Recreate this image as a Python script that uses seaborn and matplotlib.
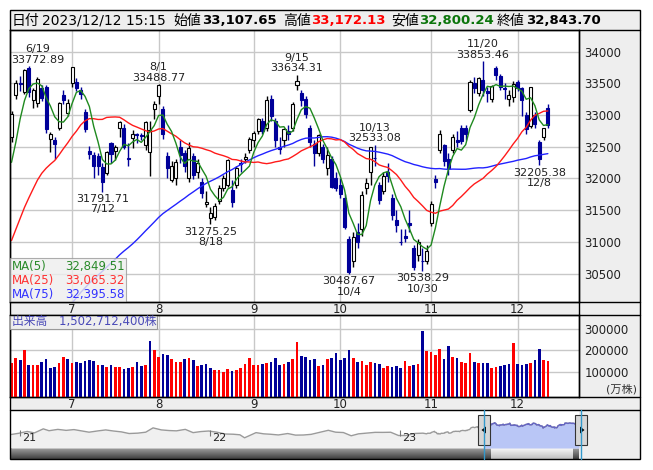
import numpy as np
import pandas as pd
import matplotlib
matplotlib.use('Agg')
import matplotlib.pyplot as plt
import seaborn as sns
from matplotlib.patches import Rectangle, Polygon

# Nikkei 225 daily candles, 2023/6/13 - 2023/12/12
opens = [32650, 33320, 33510, 33370, 33750, 33240, 33190, 33420, 33440, 32620,
         32610, 32800, 33310, 33040, 33500, 33520, 33390, 33050, 32440, 32370,
         32350, 32180, 32090, 32560, 32440, 32800, 32800, 32330, 32640, 32700,
         32690, 32530, 32420, 33100, 33300, 33100, 32350, 31980, 32000, 32500,
         32400, 32000, 32350, 32100, 31950, 31600, 31380, 31400, 31650, 31850,
         31900, 31820, 31900, 32250, 32300, 32450, 32600, 32750, 32900, 32800,
         33250, 32900, 32500, 32600, 32750, 32800, 33480, 33350, 33250, 32800,
         32550, 32400, 32500, 32170, 32300, 32000, 31900, 31700, 31050, 30700,
         31150, 31200, 31850, 32110, 32330, 31900, 31800, 32100, 31700, 31350,
         31000, 31100, 31300, 30900, 30800, 30700, 30700, 31300, 31990, 32450,
         32530, 32300, 32450, 32600, 32800, 32800, 33080, 33500, 33350, 33550,
         33380, 33250, 33740, 33620, 33420, 33250, 33280, 33520, 33420, 33000,
         32820, 33000, 32570, 32650, 33107.65]
highs = [33070, 33560, 33620, 33730, 33772.89, 33430, 33600, 33480, 33480, 32730,
         32660, 33200, 33390, 33250, 33760, 33580, 33450, 33100, 32520, 32420,
         32400, 32240, 32430, 32580, 32530, 32900, 32860, 32560, 32760, 32720,
         32720, 32900, 32900, 33230, 33488.77, 33150, 32420, 32270, 32300, 32600,
         32450, 32580, 32400, 32300, 32000, 31800, 31550, 31620, 31900, 32050,
         32300, 31980, 32200, 32300, 32400, 32650, 32750, 32950, 32950, 33300,
         33322, 32950, 32650, 32800, 32850, 33200, 33634.31, 33400, 33300, 32850,
         32600, 32700, 32550, 32500, 32350, 32100, 32000, 31750, 31100, 31150,
         31300, 31800, 32000, 32500, 32533.08, 31950, 32100, 32250, 31750, 31500,
         31200, 31200, 31500, 30950, 31050, 30900, 30950, 31650, 32050, 32760,
         32550, 32400, 32700, 32750, 32850, 32850, 33560, 33600, 33600, 33853.46,
         33450, 33480, 33780, 33650, 33500, 33400, 33530, 33560, 33450, 33050,
         33450, 33050, 32600, 32800, 33172.13]
lows = [32580, 33250, 33380, 33330, 33280, 33110, 33130, 33230, 32720, 32420,
        32300, 32760, 33180, 32990, 33440, 33380, 33250, 32730, 32300, 32000,
        32050, 31791.71, 32050, 32250, 32290, 32650, 32460, 32200, 32480, 32560,
        32600, 32450, 32037, 32940, 33180, 32620, 32000, 31950, 31900, 32250,
        32100, 31950, 31990, 32010, 31700, 31550, 31275.25, 31350, 31600, 31800,
        31870, 31550, 31850, 32100, 32250, 32400, 32500, 32700, 32700, 32750,
        32900, 32500, 32380, 32500, 32600, 32750, 33400, 33150, 32950, 32500,
        32200, 32350, 32250, 32050, 31850, 31800, 31700, 31200, 30487.67, 30600,
        30900, 31100, 31750, 31900, 32200, 31600, 31750, 31950, 31350, 31150,
        30950, 31000, 31150, 30550, 30700, 30538.29, 30650, 31250, 31850, 32400,
        32200, 32050, 32400, 32500, 32550, 32600, 33050, 33350, 33300, 33300,
        33200, 33200, 33550, 33400, 33250, 33150, 33200, 33380, 32980, 32700,
        32800, 32800, 32205.38, 32600, 32800.24]
closes = [33018.05, 33502.42, 33485.49, 33706.08, 33370.42, 33388.91, 33575.14, 33264.88, 32781.54, 32698.81,
          32538.33, 33193.99, 33234.14, 33189.04, 33753.33, 33422.52, 33338.70, 32773.02, 32388.42, 32189.73,
          32203.57, 31943.93, 32419.33, 32391.26, 32493.89, 32896.03, 32490.52, 32304.25, 32700.69, 32682.51,
          32668.34, 32891.16, 32759.23, 33172.22, 33476.58, 32707.69, 32159.28, 32192.75, 32254.56, 32377.29,
          32204.33, 32473.65, 32059.91, 32238.89, 31766.82, 31626.00, 31450.76, 31565.64, 31856.71, 32010.26,
          32287.21, 31624.28, 32169.99, 32226.97, 32333.46, 32619.34, 32710.62, 32939.18, 32745.49, 33241.02,
          32991.08, 32606.84, 32467.76, 32776.37, 32706.52, 33168.10, 33533.09, 33242.59, 33023.78, 32571.03,
          32402.41, 32678.62, 32315.05, 32371.90, 31872.52, 31857.62, 31759.88, 31237.94, 30526.88, 31075.36,
          30994.67, 31746.53, 31936.51, 32494.66, 32315.99, 31659.03, 32040.29, 32042.25, 31430.62, 31259.36,
          30999.55, 31062.35, 31269.92, 30601.78, 30991.69, 30696.96, 30858.85, 31601.65, 31949.89, 32708.48,
          32271.82, 32166.48, 32646.46, 32568.11, 32585.11, 32695.93, 33519.70, 33424.41, 33585.20, 33388.03,
          33354.14, 33451.83, 33625.53, 33447.67, 33408.39, 33321.22, 33486.89, 33431.51, 33231.27, 32775.82,
          33445.90, 32858.31, 32307.86, 32791.80, 32843.70]
# volume, 10,000 shares
volumes = [142000, 163700, 154400, 200900, 131200, 131200, 131200, 145100, 159100, 117200,
           121900, 142000, 166800, 159100, 142000, 145100, 142000, 149800, 154400, 149800,
           131200, 131200, 121900, 131200, 121900, 121900, 112600, 117200, 121900, 145100,
           126500, 131200, 242800, 200900, 168400, 182300, 177700, 159100, 145100, 145100,
           159100, 163700, 154400, 126500, 131200, 135900, 117200, 107900, 107900, 98600,
           112600, 103300, 107900, 117200, 135900, 163700, 131200, 131200, 135900, 140500,
           145100, 163700, 131200, 135900, 145100, 159100, 238100, 173000, 168400, 154400,
           159100, 126500, 131200, 159100, 163700, 187000, 154400, 163700, 200900, 163700,
           145100, 149800, 131200, 145100, 140500, 135900, 117200, 126500, 121900, 126500,
           117200, 149800, 126500, 131200, 135900, 289300, 196300, 191600, 177700, 205600,
           159100, 219500, 168400, 163700, 145100, 140500, 187000, 145100, 140500, 140500,
           140500, 117200, 121900, 126500, 131200, 135900, 233500, 135900, 131200, 135900,
           140500, 154400, 205600, 154400, 150271.24]
# closes 2023/2/22 - 2023/6/12, needed for the moving averages
pre_closes = [27104, 27453, 27423, 27445,
              27516, 27498, 27927, 28237, 28309, 28444, 28623, 28143, 27832, 27222, 27229,
              27010, 27333, 26945, 27466, 27419, 27385, 27476, 27518, 27883, 27782, 28041,
              28188, 28287, 27813, 27472, 27518, 27633, 27923, 28082, 28156, 28493,
              28514, 28658, 28606, 28657, 28564, 28593, 28620, 28416, 28457, 28856,
              29123, 29157, 28949, 29242, 29122, 29126, 29388, 29626, 29842, 30093,
              30573, 30808, 31086, 31086, 30957, 30801, 30916, 31233, 31328, 30888,
              31148, 31524, 32217, 32506, 31913, 31641, 32265, 32434]
# older history for the navigator strip
nav_dates = ['2020-12-15', '2020-12-30', '2021-01-15', '2021-01-29', '2021-02-15', '2021-02-26',
             '2021-03-15', '2021-03-31', '2021-04-15', '2021-04-30', '2021-05-14', '2021-05-31',
             '2021-06-15', '2021-06-30', '2021-07-15', '2021-07-30', '2021-08-16', '2021-08-31',
             '2021-09-14', '2021-09-30', '2021-10-15', '2021-10-29', '2021-11-15', '2021-11-30',
             '2021-12-15', '2021-12-30', '2022-01-14', '2022-01-31', '2022-02-15', '2022-02-28',
             '2022-03-09', '2022-03-31', '2022-04-15', '2022-04-28', '2022-05-13', '2022-05-31',
             '2022-06-15', '2022-06-30', '2022-07-15', '2022-07-29', '2022-08-17', '2022-08-31',
             '2022-09-15', '2022-09-30', '2022-10-14', '2022-10-31', '2022-11-15', '2022-11-30',
             '2022-12-15', '2022-12-30', '2023-01-13', '2023-01-31', '2023-02-15']
nav_values = [26687, 27444, 28519, 27663, 30084, 28966, 29766, 29179, 29643, 28813, 28084, 28860,
              29441, 28792, 28279, 27284, 27523, 28090, 30670, 29453, 29069, 28893, 29777, 27822,
              28460, 28792, 28124, 27002, 26866, 26527, 24718, 27821, 27093, 26848, 26428, 27280,
              26327, 26393, 26788, 27802, 29222, 28092, 27876, 25937, 27091, 27587, 27991, 27969,
              28051, 26095, 26120, 27327, 27501]
ma_legend = [('MA(5)', '32,849.51'), ('MA(25)', '33,065.32'), ('MA(75)', '32,395.58')]
peak_idx = [4, 34, 66, 84, 109]
trough_idx = [21, 46, 78, 95, 122]

holidays = ['2023-02-23', '2023-03-21', '2023-05-03', '2023-05-04', '2023-05-05', '2023-07-17',
            '2023-08-11', '2023-09-18', '2023-10-09', '2023-11-03', '2023-11-23']
all_dates = pd.bdate_range('2023-02-22', '2023-12-12', freq='C', holidays=holidays)
all_close = pd.Series(pre_closes + closes, index=all_dates)
n = len(closes)
dates = all_dates[-n:]
ma5 = all_close.rolling(5).mean().values[-n:]
ma25 = all_close.rolling(25).mean().values[-n:]
ma75 = all_close.rolling(75).mean().values[-n:]

opens, highs, lows, closes, volumes = map(np.array, (opens, highs, lows, closes, volumes))
idx = np.arange(n)
month_idx = [i for i in range(1, n) if dates[i].month != dates[i - 1].month]
month_lab = [str(dates[i].month) for i in month_idx]

sns.set_style('white')
plt.rcParams['font.family'] = ['DejaVu Sans', 'Noto Sans CJK JP']

NAVY = '#000099'
RED = '#ff0000'
GRID = '#c8c8c8'
PANEL = '#eeeeee'

W, H = 653, 470
fig = plt.figure(figsize=(W / 100, H / 100), dpi=100)


def add_ax(x0, y0, x1, y1, z):
    a = fig.add_axes([x0 / W, 1 - y1 / H, (x1 - x0) / W, (y1 - y0) / H])
    a.set_zorder(z)
    return a


bg = add_ax(0, 0, W, H, 0)
bg.set_xlim(0, W)
bg.set_ylim(H, 0)
bg.axis('off')
for r in [(10, 10, 630, 20), (579, 30, 61, 367.3), (10, 302.3, 630, 12.7),
          (10, 397.3, 630, 12.7), (579, 410, 61, 49)]:
    bg.add_patch(Rectangle(r[:2], r[2], r[3], fc=PANEL, ec='none'))
# scrollbar of the navigator
grad = np.linspace(0.62, 0.25, 20)[:, None]
bg.imshow(grad, extent=(10, 579, 459, 448), cmap='gray', vmin=0, vmax=1, aspect='auto')
thumb = np.linspace(0.97, 0.75, 20)[:, None]
bg.imshow(thumb, extent=(491, 573, 459, 448.5), cmap='gray', vmin=0, vmax=1, aspect='auto')
bg.set_xlim(0, W)
bg.set_ylim(H, 0)

# price panel
ax = add_ax(10, 30, 579, 302.3, 2)
ax.set_facecolor('white')
up = closes >= opens
ax.vlines(idx, lows, highs, colors=np.where(up, 'black', NAVY), lw=1, zorder=3)
ax.bar(idx, np.abs(closes - opens), bottom=np.minimum(opens, closes), width=0.7,
       color=np.where(up, 'white', NAVY), edgecolor=np.where(up, 'black', NAVY), lw=0.8, zorder=4)
sns.lineplot(x=idx, y=ma75, ax=ax, color='#2222ff', lw=1, zorder=5)
sns.lineplot(x=idx, y=ma25, ax=ax, color='#ff1a1a', lw=1, zorder=5)
sns.lineplot(x=idx, y=ma5, ax=ax, color='#1f8a1f', lw=1, zorder=6)
ax.set_xlim(-0.35, 131.2)
ax.set_ylim(30047, 34342)
ax.set_yticks(np.arange(30500, 34001, 500))
ax.set_yticklabels([str(v) for v in np.arange(30500, 34001, 500)])
ax.yaxis.tick_right()
ax.set_xticks(month_idx)
ax.set_xticklabels(month_lab)
ax.tick_params(axis='y', length=0, pad=4, labelsize=8.5, labelcolor='#222222')
ax.tick_params(axis='x', length=0, pad=0.5, labelsize=8.5, labelcolor='#222222')
ax.grid(True, color=GRID, lw=1)
ax.set_axisbelow(True)
ax.set_xlabel('')
ax.set_ylabel('')
for s in ax.spines.values():
    s.set_color('black')
    s.set_linewidth(1)

peak_dx = {4: 6.5}
for i in peak_idx:
    d = dates[i]
    ax.annotate(f'{d.month}/{d.day}\n{highs[i]:.2f}', xy=(i, highs[i]),
                xytext=(peak_dx.get(i, 0), 1), textcoords='offset points',
                ha='center', va='bottom', fontsize=8, linespacing=1.05,
                color='#222222', annotation_clip=False, zorder=8)
for i in trough_idx:
    d = dates[i]
    ax.annotate(f'{lows[i]:.2f}\n{d.month}/{d.day}', xy=(i, lows[i]),
                xytext=(0, -1.5), textcoords='offset points',
                ha='center', va='top', fontsize=8, linespacing=1.05,
                color='#222222', annotation_clip=False, zorder=8)

# volume panel
vax = add_ax(10, 315, 579, 397.3, 2)
vax.set_facecolor('white')
vfloor = -19000
prev = np.concatenate([[pre_closes[-1]], closes[:-1]])
vcol = np.where(closes >= prev, RED, NAVY)
vax.bar(idx, volumes - vfloor, bottom=vfloor, width=0.62, color=vcol, lw=0, zorder=3)
vax.set_xlim(-0.35, 131.2)
vax.set_ylim(vfloor, 363700)
vax.set_yticks([100000, 200000, 300000])
vax.set_yticklabels(['100000', '200000', '300000'])
vax.yaxis.tick_right()
vax.set_xticks(month_idx)
vax.set_xticklabels(month_lab)
vax.tick_params(axis='y', length=0, pad=4, labelsize=8.5, labelcolor='#222222')
vax.tick_params(axis='x', length=0, pad=0.5, labelsize=8.5, labelcolor='#222222')
vax.grid(True, color=GRID, lw=1)
vax.set_axisbelow(True)
for s in vax.spines.values():
    s.set_color('black')
    s.set_linewidth(1)

# navigator
nax = add_ax(10, 410, 579, 448, 2)
nax.set_facecolor('white')
hist = pd.Series(nav_values, index=pd.to_datetime(nav_dates))
nav = pd.concat([hist, all_close])
sel = nav[nav.index >= dates[0]]
nlo = 18600
nax.fill_between(nav.index, nav.values, nlo, color='#f0f0f0', lw=0)
nax.fill_between(sel.index, sel.values, nlo, color='#b9c6f6', lw=0)
sns.lineplot(x=nav.index, y=nav.values, ax=nax, color='#9a9a9a', lw=1)
sns.lineplot(x=sel.index, y=sel.values, ax=nax, color='#6666c4', lw=1)
nax.set_xlim(pd.Timestamp('2020-12-13'), pd.Timestamp('2023-12-12'))
nax.set_ylim(nlo, 41400)
for yr in ['2021', '2022', '2023']:
    t = pd.Timestamp(yr + '-01-01')
    nax.vlines(t, 26000, 29500, color='#777777', lw=0.8)
    nax.annotate(yr[2:], xy=(t, 24500), xytext=(1.5, 0), textcoords='offset points',
                 ha='left', va='center', fontsize=8, color='#222222')
nax.set_xticks([])
nax.set_yticks([])
nax.set_xlabel('')
nax.set_ylabel('')
for s in nax.spines.values():
    s.set_visible(False)

# overlay: frames, header, legends, handles
fg = add_ax(0, 0, W, H, 5)
fg.set_xlim(0, W)
fg.set_ylim(H, 0)
fg.axis('off')
fg.add_patch(Rectangle((10, 10), 630, 449, fill=False, ec='black', lw=1))
for yy in [30, 302.3, 315, 397.3, 410]:
    fg.plot([10, 640], [yy, yy], color='black', lw=1)
fg.plot([579, 579], [30, 397.3], color='black', lw=1)

hdr = [(12, '日付', 'normal', 'black'),
       (42, dates[-1].strftime('%Y/%m/%d') + ' 15:15', 'normal', 'black'),
       (173, '始値', 'normal', 'black'),
       (202, f'{opens[-1]:,.2f}', 'bold', 'black'),
       (283, '高値', 'normal', 'black'),
       (311, f'{highs[-1]:,.2f}', 'bold', '#ff0000'),
       (391, '安値', 'normal', 'black'),
       (419, f'{lows[-1]:,.2f}', 'bold', '#0b750b'),
       (497, '終値', 'normal', 'black'),
       (526, f'{closes[-1]:,.2f}', 'bold', 'black')]
for x, s, w, c in hdr:
    fg.text(x, 20.5, s, ha='left', va='center', fontsize=9.5 if w == 'bold' else 10,
            fontweight=w, color=c)

fg.add_patch(Rectangle((10, 258), 116, 44.3, fc='#eeeeee', alpha=0.8, ec='#999999', lw=0.8))
for (lab, val), yy, c in zip(ma_legend, [266.7, 280.7, 294.3], ['#2a8a2a', '#ff3333', '#3333ff']):
    fg.text(12, yy, lab, ha='left', va='center', fontsize=8.5, color=c)
    fg.text(125, yy, val, ha='right', va='center', fontsize=8.5, color=c)

fg.add_patch(Rectangle((10, 315), 147, 14, fc='#eeeeee', ec='#999999', lw=0.8))
fg.text(12, 322, f'出来高\u3000{int(round(volumes[-1] * 10000)):,}株', ha='left', va='center',
        fontsize=8.5, color='#4a4ab8')
fg.text(637, 389.5, '(万株)', ha='right', va='center', fontsize=8, color='#333333')

for xx in [484, 581]:
    fg.plot([xx, xx], [410, 459], color='#3399cc', lw=1)
for x0, pts in [(478, [(481.5, 430), (486, 426.5), (486, 433.5)]),
                (575, [(584.5, 430), (580, 426.5), (580, 433.5)])]:
    fg.add_patch(Rectangle((x0, 415), 12, 30, fc='#d6d6d6', ec='#333333', lw=0.8))
    fg.add_patch(Polygon(pts, closed=True, fc='black', ec='none'))

fig.savefig('out.png', dpi=100)
